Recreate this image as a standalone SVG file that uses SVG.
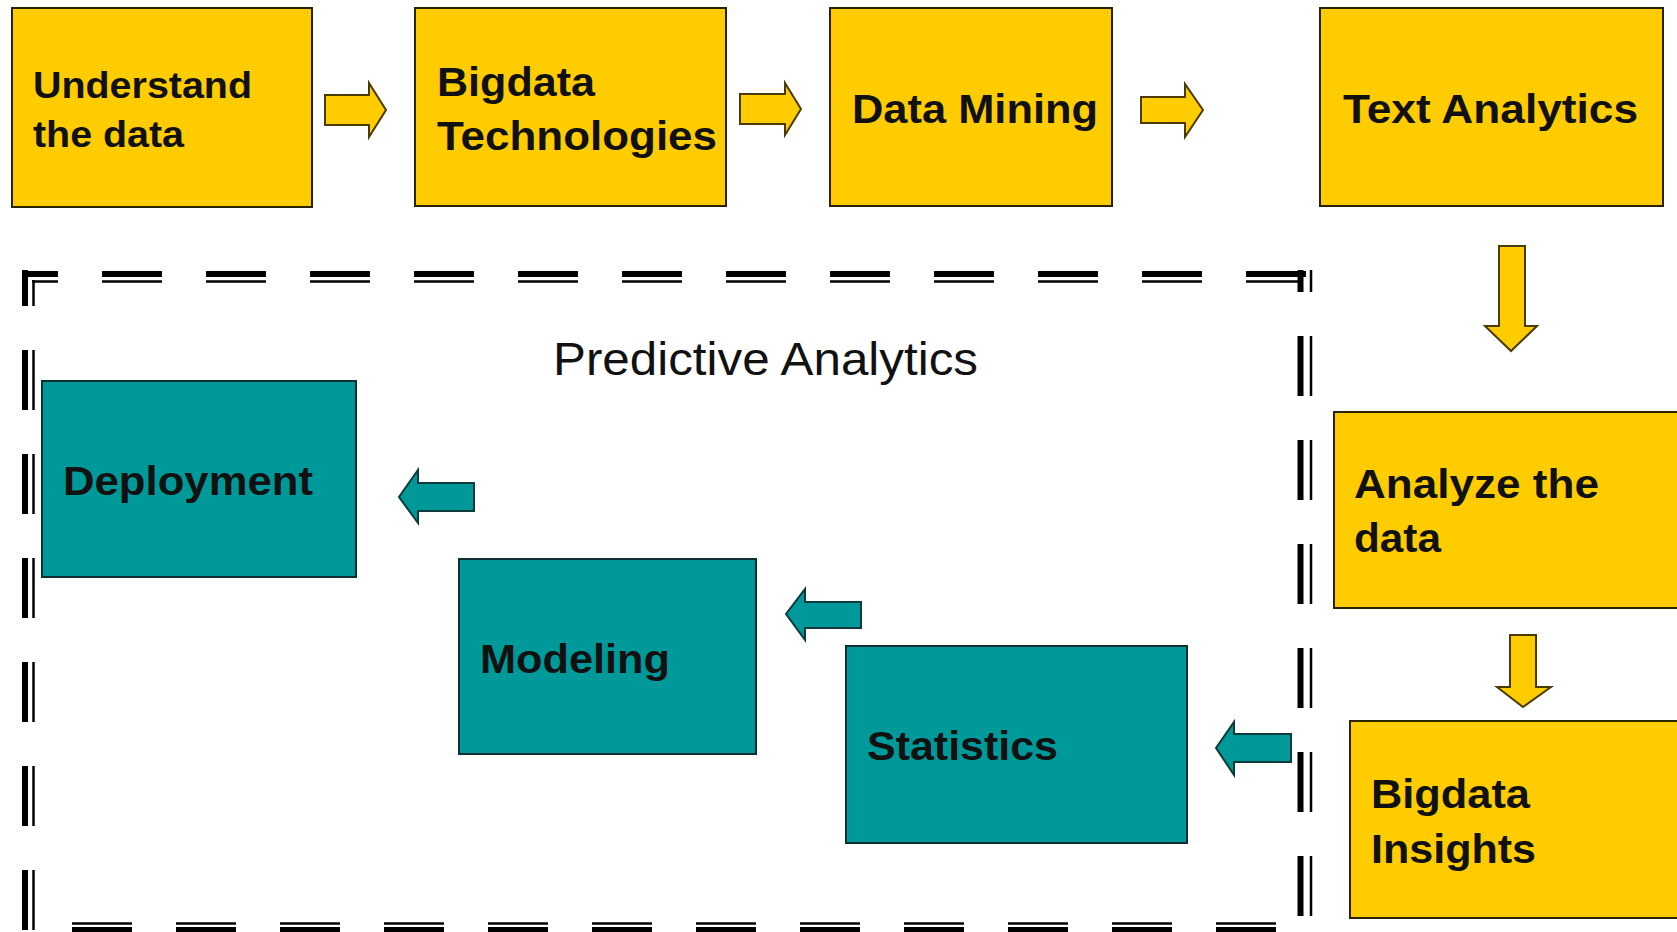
<svg xmlns="http://www.w3.org/2000/svg" width="1677" height="932" viewBox="0 0 1677 932">
<style>
.y{fill:#FFCC00;stroke:#2a2200;stroke-width:2}
.t{fill:#009999;stroke:#0d2f2f;stroke-width:2}
.ya{fill:#FFCC00;stroke:#4a3c00;stroke-width:2;stroke-linejoin:miter}
.ta{fill:#009999;stroke:#0d3a3a;stroke-width:2;stroke-linejoin:miter}
.lb{font-family:"Liberation Sans",Arial,sans-serif;font-weight:bold;font-size:41px;fill:#111}
.ttl{font-family:"Liberation Sans",Arial,sans-serif;font-size:46px;fill:#111}
.thick{stroke:#000;stroke-width:6;fill:none;stroke-dasharray:60 44}
.thin{stroke:#000;stroke-width:2.5;fill:none;stroke-dasharray:60 44}
</style>
<rect width="1677" height="932" fill="#fff"/>
<g id="frame">
<line class="thick" x1="22" y1="274" x2="1308" y2="274" stroke-dashoffset="24"/>
<line class="thin" x1="32" y1="281.5" x2="1300" y2="281.5" stroke-dashoffset="34"/>
<line class="thick" x1="25" y1="270" x2="25" y2="940" stroke-dashoffset="24"/>
<line class="thin" x1="33.5" y1="280" x2="33.5" y2="940" stroke-dashoffset="34"/>
<line class="thick" x1="1300.5" y1="270" x2="1300.5" y2="940" stroke-dashoffset="38"/>
<line class="thin" x1="1311" y1="270" x2="1311" y2="940" stroke-dashoffset="38"/>
<line class="thin" x1="72" y1="923.5" x2="1290" y2="923.5"/>
<line class="thick" x1="72" y1="930" x2="1290" y2="930"/>
<text class="ttl" x="553" y="375" textLength="425" lengthAdjust="spacingAndGlyphs">Predictive Analytics</text>
</g>
<g id="connectors">
<path class="ya" d="M325,95 H369 V83 L386,110 L369,137 V125 H325 Z"/>
<path class="ya" d="M740,94 H785 V83 L801,109 L785,135 V124 H740 Z"/>
<path class="ya" d="M1141,97 H1185 V84 L1203,110 L1185,137 V123 H1141 Z"/>
<path class="ya" d="M1499,246 H1525 V326 H1537 L1511,351 L1485,326 H1499 Z"/>
<path class="ya" d="M1510,635 H1536 V687 H1551 L1523,707 L1497,687 H1510 Z"/>
<path class="ta" d="M1291,734 V762 H1234 V775 L1216,748 L1234,722 V734 Z"/>
<path class="ta" d="M861,602 V628 H805 V640 L786,614 L805,589 V602 Z"/>
<path class="ta" d="M474,483 V511 H418 V523 L399,497 L418,470 V483 Z"/>
</g>
<g id="understand">
<rect class="y" x="12" y="8" width="300" height="199"/>
<text class="lb" style="font-size:37px" x="33" y="98" textLength="219" lengthAdjust="spacingAndGlyphs">Understand</text>
<text class="lb" style="font-size:37px" x="33" y="147" textLength="151" lengthAdjust="spacingAndGlyphs">the data</text>
</g>
<g id="bigdata-tech">
<rect class="y" x="415" y="8" width="311" height="198"/>
<text class="lb" x="437" y="96" textLength="158" lengthAdjust="spacingAndGlyphs">Bigdata</text>
<text class="lb" x="437" y="150" textLength="280" lengthAdjust="spacingAndGlyphs">Technologies</text>
</g>
<g id="data-mining">
<rect class="y" x="830" y="8" width="282" height="198"/>
<text class="lb" x="852" y="123" textLength="246" lengthAdjust="spacingAndGlyphs">Data Mining</text>
</g>
<g id="text-analytics">
<rect class="y" x="1320" y="8" width="343" height="198"/>
<text class="lb" x="1343" y="123" textLength="295" lengthAdjust="spacingAndGlyphs">Text Analytics</text>
</g>
<g id="analyze">
<rect class="y" x="1334" y="412" width="350" height="196"/>
<text class="lb" x="1354" y="498" textLength="245" lengthAdjust="spacingAndGlyphs">Analyze the</text>
<text class="lb" x="1354" y="552" textLength="87" lengthAdjust="spacingAndGlyphs">data</text>
</g>
<g id="insights">
<rect class="y" x="1350" y="721" width="340" height="197"/>
<text class="lb" x="1371" y="808" textLength="159" lengthAdjust="spacingAndGlyphs">Bigdata</text>
<text class="lb" x="1371" y="863" textLength="165" lengthAdjust="spacingAndGlyphs">Insights</text>
</g>
<g id="deployment">
<rect class="t" x="42" y="381" width="314" height="196"/>
<text class="lb" x="63" y="495" textLength="250" lengthAdjust="spacingAndGlyphs">Deployment</text>
</g>
<g id="modeling">
<rect class="t" x="459" y="559" width="297" height="195"/>
<text class="lb" x="480" y="673" textLength="190" lengthAdjust="spacingAndGlyphs">Modeling</text>
</g>
<g id="statistics">
<rect class="t" x="846" y="646" width="341" height="197"/>
<text class="lb" x="867" y="760" textLength="191" lengthAdjust="spacingAndGlyphs">Statistics</text>
</g>
</svg>
